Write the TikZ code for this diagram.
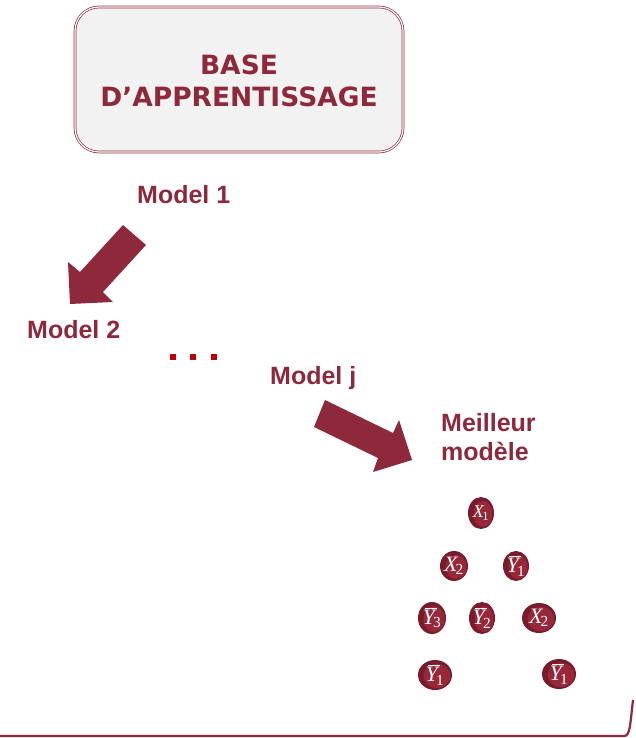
\documentclass[tikz,border=0pt]{standalone}
\usepackage{fontspec}
\setmainfont{Liberation Sans}
\newfontfamily\boxfont{DejaVu Sans}
\newfontfamily\varfont{Liberation Serif}
\definecolor{wine}{RGB}{142,40,59}
\definecolor{winedark}{RGB}{120,28,44}
\definecolor{winelight}{RGB}{150,40,58}
\definecolor{boxgray}{RGB}{242,242,242}
\definecolor{dotred}{RGB}{192,0,0}
\newcommand{\varX}[1]{{\itshape X}\kern-0.08em\textsubscript{#1}}
\newcommand{\varYbar}[1]{\rlap{\kern0.12em\raisebox{0.72em}{\rule{0.55em}{0.05em}}}{\itshape Y}\kern-0.08em\textsubscript{#1}}
\tikzset{
  label text/.style={text=wine, font=\fontsize{25}{30}\selectfont\bfseries, anchor=base west, inner sep=0pt},
  block arrow/.style={fill=wine, draw=none},
  dot/.style={fill=dotred, minimum size=6pt, inner sep=0pt},
  ball text/.style={text=white, inner sep=0pt, font=\varfont\fontsize{22}{24}\selectfont},
}
\begin{document}
\begin{tikzpicture}[x=1pt,y=-1pt]
\useasboundingbox (0,0) rectangle (636,738);

% learning base box
\draw[wine, line width=0.7pt, double=white, double distance=1.2pt,
      fill=boxgray, rounded corners=24pt] (75,7) rectangle (403,152);
\node (base) at (239,81) [text=wine, align=center, inner sep=0pt,
  font=\boxfont\fontsize{26.5}{32}\selectfont\bfseries]
  {BASE\\D’APPRENTISSAGE};

% model labels
\node[label text] (m1) at (137,203) {Model 1};
\node[label text] (m2) at (27,338) {Model 2};
\node[label text] (mj) at (270,384) {Model j};
\node[label text, align=left, anchor=north west] (best) at (441,413)
  {Meilleur\\[-1pt]modèle};

% dots between models
\node[dot] (d1) at (173,357) {};
\node[dot] (d2) at (193,357) {};
\node[dot] (d3) at (214,357) {};

% block arrows
\fill[block arrow] (123,225) -- (146,245) -- (103,292) -- (113,302)
  -- (70,304) -- (68,262) -- (80,272) -- cycle;
\fill[block arrow] (325,400) -- (393,433) -- (399,420) -- (412,460)
  -- (373,472) -- (378,458) -- (314,427) -- cycle;

% variable tree
\foreach \name/\pos/\rx/\ry/\lab in {
  x1/{481,513}/13/16/{\fontsize{18}{20}\selectfont\varX{1}},
  x2a/{454,566}/14/15/{\varX{2}},
  y1a/{516,566}/13/15/{\varYbar{1}},
  y3/{432,618}/14/16/{\varYbar{3}},
  y2/{482,618}/13/16/{\varYbar{2}},
  x2b/{539,618}/17/15/{\varX{2}},
  y1b/{435,675}/17/15/{\varYbar{1}},
  y1c/{559,674}/17/15/{\varYbar{1}}} {
  \fill[winedark] (\pos) ellipse ({\rx} and {\ry});
  \fill[winelight] ([xshift=2pt,yshift=-1pt]\pos) ellipse ({\rx-3.5} and {\ry-3});
  \node[ball text] (\name) at (\pos) {\lab};
}

% bottom frame line
\draw[wine, line width=2.2pt] (0,736) -- (624,736)
  .. controls (630,736) and (630,726) .. (633,700);
\end{tikzpicture}
\end{document}
